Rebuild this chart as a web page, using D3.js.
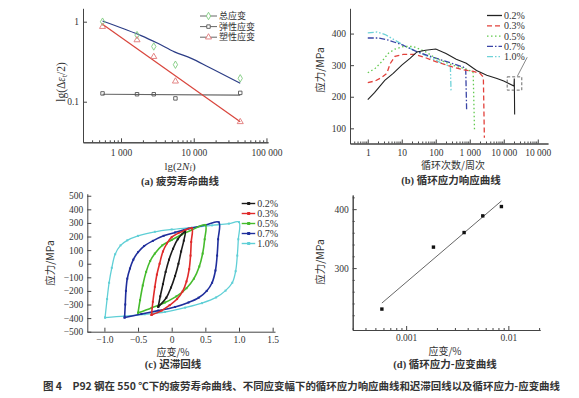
<!DOCTYPE html>
<html>
<head>
<meta charset="utf-8">
<script src="https://cdn.jsdelivr.net/npm/d3@7"></script>
<style>
  body { margin: 0; background: #fff; }
  text { font-family: "Liberation Serif", serif; fill: #333; }
  .cn { font-family: "Noto Sans CJK SC", sans-serif; }
</style>
</head>
<body>
<svg id="fig" width="579" height="398"></svg>
<script>
// (a) fatigue life curve
const lifeCycles = [557, 1660, 2820, 5600, 43600];
const totalStrain = [1.0, 0.68, 0.49, 0.29, 0.196];
const elasticStrain = [0.127, 0.124, 0.124, 0.110, 0.129];
const plasticStrain = [0.866, 0.59, 0.365, 0.18, 0.056];
const totalFit = [[557, 1.02], [1110, 0.81], [1890, 0.67], [3200, 0.537], [5430, 0.42], [9240, 0.348], [15700, 0.274], [43600, 0.17]];
const elasticFit = [[557, 0.124], [43600, 0.121]];
const plasticFit = [[557, 0.93], [43600, 0.056]];
const lifeLegend = ['总应变', '弹性应变', '塑性应变'];

// (b) cyclic stress response, [cycles, stress MPa]
const amplitudes = ['0.2%', '0.3%', '0.5%', '0.7%', '1.0%'];
const resp02 = [[1, 191], [1.58, 213], [3.16, 252], [5.6, 274], [10, 300], [17.8, 322], [28, 342], [50, 347], [100, 351], [200, 337], [400, 319], [790, 306], [1580, 283], [3160, 268], [6300, 258], [10000, 250], [20000, 234], [20400, 258], [20900, 144]];
const resp03 = [[1, 245], [1.66, 250], [2.57, 261], [3.63, 274], [4.57, 305], [6.3, 328], [11.2, 334], [24.5, 334], [49, 324], [100, 311], [295, 295], [646, 285], [1290, 280], [2000, 274], [2510, 262], [2690, 70]];
const resp05 = [[1, 276], [1.66, 290], [2.57, 311], [4.07, 338], [6.3, 351], [11.2, 359], [21.9, 359], [49, 343], [100, 322], [295, 301], [646, 290], [1000, 283], [1260, 276], [1380, 91]];
const resp07 = [[1, 386], [2.04, 386], [4.07, 379], [10, 365], [27.5, 343], [100, 322], [295, 306], [646, 294], [760, 288], [810, 154]];
const resp10 = [[1, 402], [1.82, 405], [3.24, 397], [6.3, 379], [12.6, 360], [27.5, 343], [60, 327], [151, 306], [269, 296], [282, 215]];
const respTicks = [1, 10, 100, 1000, 10000, 100000];
const respTickLabels = ['1', '10', '100', '1 000', '10 000', '10 000'];

// (c) hysteresis loops, [strain %, stress MPa]
const loop02 = [[-0.20, -317], [-0.17, -240], [-0.13, -150], [-0.09, -60], [-0.04, 30], [0.02, 110], [0.09, 180], [0.20, 235],
  [0.18, 170], [0.14, 90], [0.10, 0], [0.05, -90], [-0.01, -175], [-0.08, -250], [-0.20, -317]];
const loop03 = [[-0.30, -377], [-0.28, -280], [-0.25, -170], [-0.22, -80], [-0.18, 0], [-0.13, 90], [-0.07, 150], [0.0, 195], [0.10, 225], [0.20, 247], [0.30, 262],
  [0.29, 160], [0.28, 60], [0.26, -40], [0.22, -130], [0.16, -205], [0.08, -260], [-0.03, -305], [-0.15, -345], [-0.30, -377]];
const loop05 = [[-0.50, -361], [-0.47, -268], [-0.43, -160], [-0.38, -60], [-0.32, 20], [-0.25, 75], [-0.14, 135], [0.0, 175], [0.15, 215], [0.30, 248], [0.50, 285],
  [0.49, 180], [0.46, 75], [0.41, -20], [0.33, -110], [0.22, -180], [0.07, -240], [-0.10, -285], [-0.30, -325], [-0.50, -361]];
const loop07 = [[-0.70, -396], [-0.69, -300], [-0.68, -200], [-0.66, -110], [-0.62, -35], [-0.57, 30], [-0.50, 85], [-0.41, 130], [-0.28, 168], [-0.12, 205], [0.05, 230], [0.25, 258], [0.50, 285], [0.70, 305],
  [0.69, 180], [0.675, 60], [0.65, -50], [0.60, -140], [0.52, -200], [0.40, -250], [0.25, -285], [0.05, -318], [-0.20, -345], [-0.45, -370], [-0.70, -396]];
const loop10 = [[-0.99, -396], [-0.96, -260], [-0.93, -140], [-0.89, -30], [-0.84, 70], [-0.76, 135], [-0.66, 172], [-0.50, 205], [-0.25, 235], [0.0, 252], [0.30, 266], [0.60, 282], [0.85, 295], [1.00, 306],
  [0.99, 180], [0.975, 60], [0.95, -55], [0.90, -140], [0.80, -198], [0.66, -248], [0.45, -290], [0.20, -323], [-0.10, -355], [-0.40, -372], [-0.70, -386], [-0.99, -396]];

// (d) cyclic stress-strain
const csStrain = [0.000579, 0.00185, 0.00369, 0.00562, 0.00855];
const csStress = [230.5, 335.6, 360.3, 388.6, 404.4];
const csFit = [[0.000579, 240.7], [0.00857, 414]];

const captions = ['(a) 疲劳寿命曲线', '(b) 循环应力响应曲线', '(c) 迟滞回线', '(d) 循环应力-应变曲线'];
const figTitle = '图 4　P92 钢在 550 ℃下的疲劳寿命曲线、不同应变幅下的循环应力响应曲线和迟滞回线以及循环应力-应变曲线';

const ampColors = ['#222', '#e2413b', '#62c94f', '#3a45a6', '#6fd2d8'];
const ampDash = [null, '5,3', '1.5,2.5', '6,2,1.5,2', '6,2,1.5,2,1.5,2'];
const loopColors = ['#1b1b1b', '#e02a2a', '#45bb2c', '#1f2e9c', '#5fcfd6'];

const svg = d3.select('#fig');

function logMinors(lo, hi) {
  const out = [];
  for (let e = Math.floor(Math.log10(lo)); e <= Math.ceil(Math.log10(hi)); e++) {
    for (let m = 2; m <= 9; m++) {
      const v = m * Math.pow(10, e);
      if (v > lo && v < hi) out.push(v);
    }
  }
  return out;
}

function bottomAxis(g, scale, y, majors, fmt, minors, pad) {
  if (minors) {
    g.append('g').attr('transform', `translate(0,${y})`).attr('color', '#444')
      .call(d3.axisBottom(scale).tickValues(minors).tickSize(-2).tickSizeOuter(0).tickFormat(''));
  }
  g.append('g').attr('transform', `translate(0,${y})`).attr('color', '#444')
    .call(d3.axisBottom(scale).tickValues(majors).tickSize(-4).tickSizeOuter(0).tickPadding(pad).tickFormat(fmt))
    .selectAll('text').attr('font-size', 9.5);
}

function leftAxis(g, scale, x, majors, fmt, minors) {
  if (minors) {
    g.append('g').attr('transform', `translate(${x},0)`).attr('color', '#444')
      .call(d3.axisLeft(scale).tickValues(minors).tickSize(-2).tickSizeOuter(0).tickFormat(''));
  }
  g.append('g').attr('transform', `translate(${x},0)`).attr('color', '#444')
    .call(d3.axisLeft(scale).tickValues(majors).tickSize(-4).tickSizeOuter(0).tickPadding(4).tickFormat(fmt))
    .selectAll('text').attr('font-size', 9.5);
}

function cnText(g, x, y, str, rotate, size) {
  const t = g.append('text').attr('class', 'cn').attr('font-size', size || 10)
    .attr('text-anchor', 'middle').text(str);
  if (rotate) t.attr('transform', `translate(${x},${y}) rotate(-90)`);
  else t.attr('x', x).attr('y', y);
  return t;
}

function caption(g, x, y, str) {
  const t = g.append('text').attr('x', x).attr('y', y).attr('text-anchor', 'middle')
    .attr('font-size', 10.5).attr('font-weight', 'bold');
  t.append('tspan').text(str.slice(0, 4));
  t.append('tspan').attr('class', 'cn').text(str.slice(4));
}

const symDiamond = d3.symbol().type(d3.symbolDiamond).size(16);
const symSquare = d3.symbol().type(d3.symbolSquare).size(12);
const symTriangle = d3.symbol().type(d3.symbolTriangle).size(16);

// ---------- (a)
const ga = svg.append('g');
const xa = d3.scaleLog().domain([300, 105000]).range([83, 268]);
const ya = d3.scaleLog().domain([0.0311, 1.47]).range([142.3, 8.3]);
const fmtThousands = d => d3.format(',')(d).replace(/,/g, ' ');

bottomAxis(ga, xa, 142.3, [1000, 10000, 100000], fmtThousands, logMinors(300, 105000), 7);
leftAxis(ga, ya, 83, [0.1, 1], d => d === 1 ? '1' : '0.1');

const lineA = d3.line().x(d => xa(d[0])).y(d => ya(d[1]));
ga.append('path').attr('d', lineA(elasticFit)).attr('fill', 'none').attr('stroke', '#666').attr('stroke-width', 1.1);
ga.append('path').attr('d', lineA(plasticFit)).attr('fill', 'none').attr('stroke', '#d9453c').attr('stroke-width', 1.2);
ga.append('path').attr('d', d3.line().x(d => xa(d[0])).y(d => ya(d[1])).curve(d3.curveMonotoneX)(totalFit))
  .attr('fill', 'none').attr('stroke', '#2c3d86').attr('stroke-width', 1.2);

const lifeSeries = [
  { vals: totalStrain, sym: symDiamond, color: '#7ecb7e' },
  { vals: elasticStrain, sym: symSquare, color: '#555' },
  { vals: plasticStrain, sym: symTriangle, color: '#e07878' }
];
lifeSeries.forEach(s => {
  ga.selectAll(null).data(lifeCycles).enter().append('path')
    .attr('d', s.sym)
    .attr('transform', (d, i) => `translate(${xa(d)},${ya(s.vals[i])})`)
    .attr('fill', 'none').attr('stroke', s.color).attr('stroke-width', 0.9);
});

const legA = ga.selectAll('.legA').data(lifeLegend).enter().append('g')
  .attr('transform', (d, i) => `translate(200,${16 + i * 10.6})`);
legA.append('line').attr('x1', 0).attr('x2', 17).attr('stroke', '#666').attr('stroke-width', 1);
legA.append('path').attr('d', (d, i) => lifeSeries[i].sym())
  .attr('transform', 'translate(8.5,0)').attr('fill', '#fff')
  .attr('stroke', (d, i) => lifeSeries[i].color).attr('stroke-width', 0.9);
legA.append('text').attr('class', 'cn').attr('x', 19).attr('dy', '0.35em').attr('font-size', 9).text(d => d);

const yTitleA = ga.append('text').attr('transform', 'translate(65,82) rotate(-90)')
  .attr('text-anchor', 'middle').attr('font-size', 11.5);
yTitleA.append('tspan').text('lg(Δ');
yTitleA.append('tspan').attr('font-style', 'italic').text('ε');
yTitleA.append('tspan').attr('font-size', 7.5).attr('dy', 2).text('t');
yTitleA.append('tspan').attr('dy', -2).text('/2)');
const xTitleA = ga.append('text').attr('x', 180).attr('y', 169.5).attr('text-anchor', 'middle').attr('font-size', 11);
xTitleA.append('tspan').text('lg(2');
xTitleA.append('tspan').attr('font-style', 'italic').text('N');
xTitleA.append('tspan').attr('font-size', 7.5).attr('dy', 1.5).text('f');
xTitleA.append('tspan').attr('dy', -1.5).text(')');
caption(ga, 180, 184.5, captions[0]);

// ---------- (b)
const gb = svg.append('g');
const xb = d3.scaleLog().domain([0.3, 200000]).range([350, 548]);
const yb = d3.scaleLinear().domain([52, 480]).range([143.5, 8.3]);

bottomAxis(gb, xb, 143.5, respTicks, (d, i) => respTickLabels[i], logMinors(0.3, 200000), 5.5);
leftAxis(gb, yb, 350, [100, 200, 300, 400], d3.format('d'));

const respSeries = [resp02, resp03, resp05, resp07, resp10];
const lineB = d3.line().x(d => xb(d[0])).y(d => yb(d[1]));
respSeries.slice().reverse().forEach((s, k) => {
  const i = respSeries.length - 1 - k;
  gb.append('path').attr('d', lineB(s)).attr('fill', 'none')
    .attr('stroke', ampColors[i]).attr('stroke-width', i === 0 ? 1.1 : 1.3)
    .attr('stroke-dasharray', ampDash[i]);
});

// zoomed region marker
gb.append('rect').attr('x', xb(12600)).attr('y', yb(263))
  .attr('width', xb(33900) - xb(12600)).attr('height', yb(221) - yb(263))
  .attr('fill', 'none').attr('stroke', '#444').attr('stroke-width', 0.8).attr('stroke-dasharray', '3,2');
gb.append('line').attr('x1', xb(25100)).attr('y1', yb(265)).attr('x2', xb(49000)).attr('y2', yb(325))
  .attr('stroke', '#555').attr('stroke-width', 0.7);

const legB = gb.selectAll('.legB').data(amplitudes).enter().append('g')
  .attr('transform', (d, i) => `translate(487,${15.5 + i * 10.3})`);
legB.append('line').attr('x1', 0).attr('x2', 15)
  .attr('stroke', (d, i) => ampColors[i]).attr('stroke-width', 1.3)
  .attr('stroke-dasharray', (d, i) => ampDash[i]);
legB.append('text').attr('x', 17).attr('dy', '0.35em').attr('font-size', 10).text(d => d);

cnText(gb, 324, 70, '应力/MPa', true, 10.5);
cnText(gb, 453, 169, '循环次数/周次');
caption(gb, 451, 183.5, captions[1]);

// ---------- (c)
const gc = svg.append('g');
const xc = d3.scaleLinear().domain([-1.254, 1.535]).range([87.3, 275]);
const yc = d3.scaleLinear().domain([-500, 515]).range([331.7, 193.7]);
const fmtStrain = d => d === 0 ? '0' : d3.format('.1f')(d);

bottomAxis(gc, xc, 331.7, [-1.0, -0.5, 0, 0.5, 1.0, 1.5], fmtStrain, null, 4.5);
leftAxis(gc, yc, 87.3, d3.range(-500, 501, 100), d3.format('d'));

const loops = [loop02, loop03, loop05, loop07, loop10];
const lineC = d3.line().x(d => xc(d[0])).y(d => yc(d[1])).curve(d3.curveCatmullRom.alpha(0.5));
loops.slice().reverse().forEach((lp, k) => {
  const i = loops.length - 1 - k;
  gc.append('path').attr('d', lineC(lp)).attr('fill', 'none')
    .attr('stroke', loopColors[i]).attr('stroke-width', i === 4 ? 1.3 : 1.6);
  gc.selectAll(null).data(lp).enter().append('rect')
    .attr('x', d => xc(d[0]) - 1).attr('y', d => yc(d[1]) - 1)
    .attr('width', 2).attr('height', 2).attr('fill', loopColors[i]);
});

const legC = gc.selectAll('.legC').data(amplitudes).enter().append('g')
  .attr('transform', (d, i) => `translate(241.7,${203.5 + i * 10})`);
legC.append('line').attr('x1', 0).attr('x2', 13.5)
  .attr('stroke', (d, i) => loopColors[i]).attr('stroke-width', 1.4);
legC.append('rect').attr('x', 5.5).attr('y', -1.5).attr('width', 3).attr('height', 3)
  .attr('fill', (d, i) => loopColors[i]);
legC.append('text').attr('x', 15.5).attr('dy', '0.35em').attr('font-size', 10).text(d => d);

cnText(gc, 54, 263, '应力/MPa', true, 10.5);
cnText(gc, 173, 355.5, '应变/%');
caption(gc, 173, 368, captions[2]);

// ---------- (d)
const gd = svg.append('g');
const xd = d3.scaleLog().domain([0.0003, 0.0204]).range([352.7, 540]);
const yd = d3.scaleLinear().domain([195, 424]).range([330, 195]);

bottomAxis(gd, xd, 330, [0.001, 0.01], d => d === 0.001 ? '0.001' : '0.01', logMinors(0.0003, 0.0204), 4.5);
leftAxis(gd, yd, 352.7, [300, 400], d3.format('d'), d3.range(200, 421, 20).filter(v => v % 100 !== 0));

gd.append('path').attr('d', d3.line().x(d => xd(d[0])).y(d => yd(d[1]))(csFit))
  .attr('fill', 'none').attr('stroke', '#555').attr('stroke-width', 0.9);
gd.selectAll(null).data(csStrain).enter().append('rect')
  .attr('x', d => xd(d) - 1.7).attr('y', (d, i) => yd(csStress[i]) - 1.7)
  .attr('width', 3.4).attr('height', 3.4).attr('fill', '#111');

cnText(gd, 324, 262, '应力/MPa', true, 10.5);
cnText(gd, 445, 355, '应变/%');
caption(gd, 445, 368, captions[3]);

// figure title
svg.append('text').attr('class', 'cn').attr('x', 43).attr('y', 390)
  .attr('font-size', 10.5).attr('font-weight', 'bold')
  .attr('textLength', 517).attr('lengthAdjust', 'spacingAndGlyphs')
  .text(figTitle);
</script>
</body>
</html>
